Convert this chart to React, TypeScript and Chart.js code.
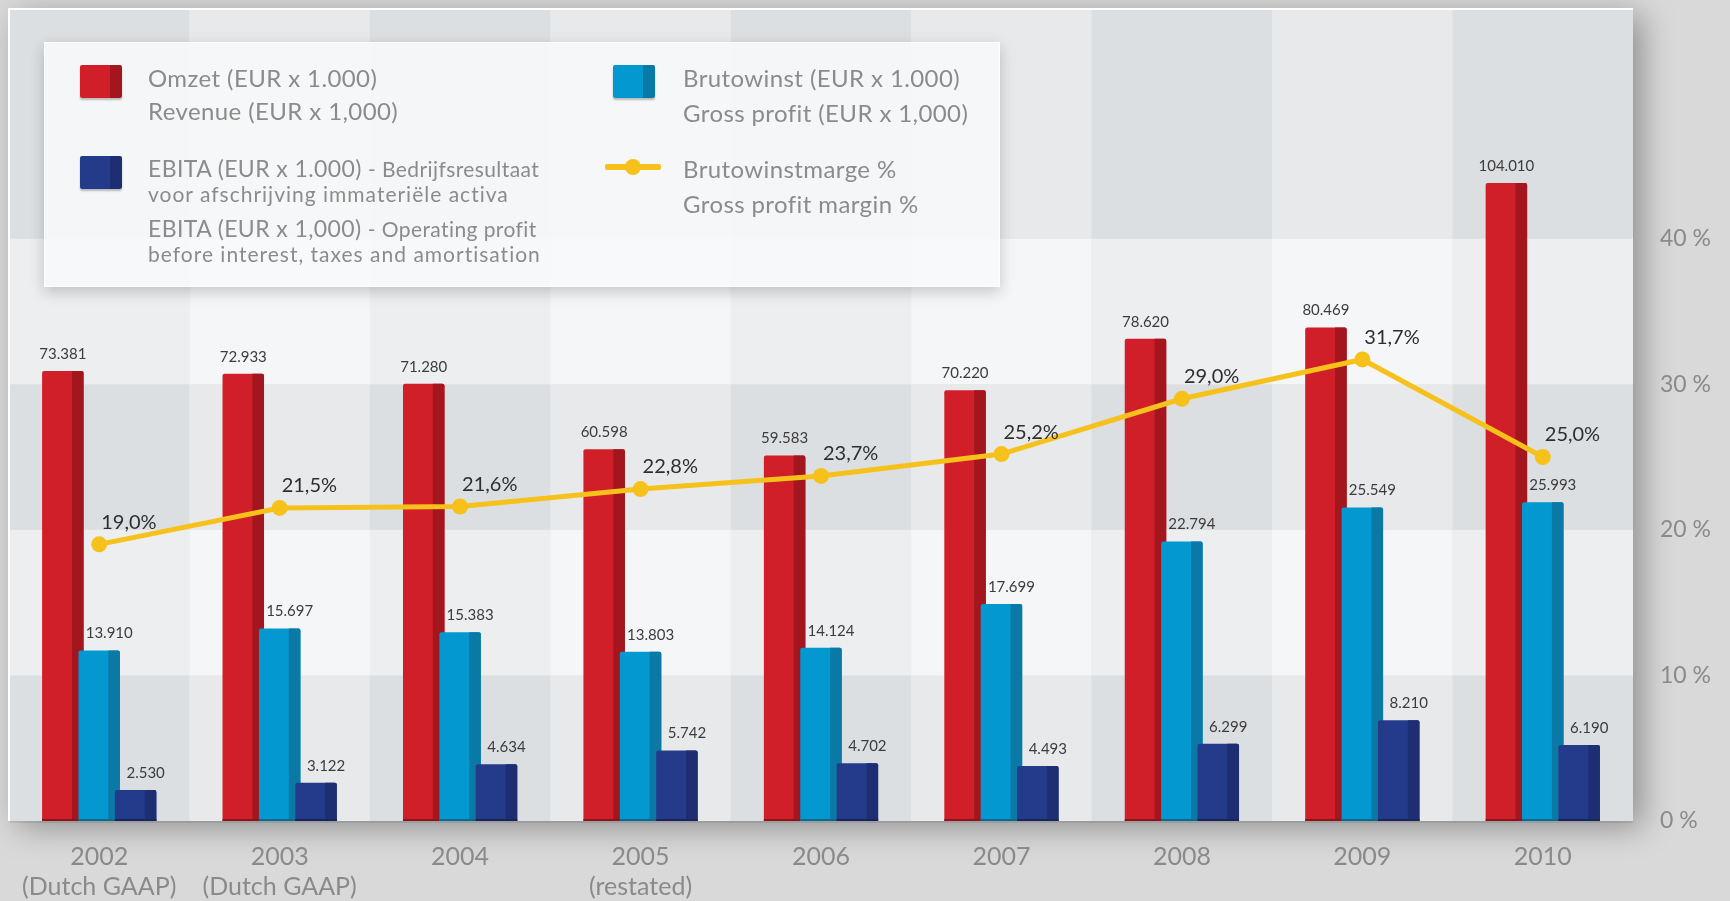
import React, { useEffect, useRef } from "react";
import { Chart, registerables } from "chart.js";

Chart.register(...registerables);

// ---- data ----
const yearLabels: string[][] = [
  ["2002", "(Dutch GAAP)"],
  ["2003", "(Dutch GAAP)"],
  ["2004"],
  ["2005", "(restated)"],
  ["2006"],
  ["2007"],
  ["2008"],
  ["2009"],
  ["2010"],
];
const revenue = [73381, 72933, 71280, 60598, 59583, 70220, 78620, 80469, 104010];
const grossProfit = [13910, 15697, 15383, 13803, 14124, 17699, 22794, 25549, 25993];
const ebita = [2530, 3122, 4634, 5742, 4702, 4493, 6299, 8210, 6190];
const margin = [19.0, 21.5, 21.6, 22.8, 23.7, 25.2, 29.0, 31.7, 25.0];
const pctTicks = [0, 10, 20, 30, 40];
const bandEdges = [0, 10, 20, 30, 40];

const revenueMax = 132400;
const profitMax = 66200;
const pctMax = 55.77;

const FONT = "Lato, 'Open Sans', sans-serif";

const barStyles = [
  { face: "#d01f28", side: "#a3161e", bottom: "#8e121a" },
  { face: "#0398d0", side: "#0b79a5", bottom: "#0a6a90" },
  { face: "#243b8c", side: "#1d2f72", bottom: "#16245a" },
];

const fmtThousands = (v: number) =>
  String(v).replace(/\B(?=(\d{3})+(?!\d))/g, ".");
const fmtPct = (v: number) => v.toFixed(1).replace(".", ",") + "%";

const chartPainter = {
  id: "painter",
  beforeDraw(chart: any) {
    const { ctx, chartArea: ca, scales } = chart;
    const x = scales.x;
    const yp = scales.yPct;
    ctx.save();
    ctx.fillStyle = "#d9d9d9";
    ctx.fillRect(0, 0, chart.width, chart.height);
    // panel shadow
    ctx.save();
    ctx.shadowColor = "rgba(0,0,0,0.34)";
    ctx.shadowBlur = 30;
    ctx.shadowOffsetX = 9;
    ctx.shadowOffsetY = 6;
    ctx.fillStyle = "#e4e5e7";
    ctx.fillRect(ca.left, ca.top, ca.right - ca.left, ca.bottom - ca.top);
    ctx.restore();
    // checkerboard
    const n = yearLabels.length;
    const half = (ca.right - ca.left) / n / 2;
    const rows: number[] = bandEdges.map((v) => yp.getPixelForValue(v));
    rows.push(ca.top);
    const colors = [
      ["#dcdfe2", "#eceef0"],
      ["#e8e9eb", "#f5f6f7"],
    ];
    for (let i = 0; i < n; i++) {
      const cx = x.getPixelForValue(i);
      const x0 = Math.max(ca.left, cx - half);
      const x1 = Math.min(ca.right, cx + half);
      for (let r = 0; r < rows.length - 1; r++) {
        const yb = rows[r];
        const yt = rows[r + 1];
        ctx.fillStyle = colors[i % 2][r % 2];
        ctx.fillRect(x0, yt, x1 - x0, yb - yt);
      }
    }
    // white frame on top and left
    ctx.fillStyle = "#ffffff";
    ctx.fillRect(ca.left - 1, ca.top - 1, ca.right - ca.left + 1, 2);
    ctx.fillRect(ca.left - 1, ca.top - 1, 2, ca.bottom - ca.top + 1);
    ctx.fillStyle = "rgba(0,0,0,0.08)";
    ctx.fillRect(ca.left, ca.bottom, ca.right - ca.left, 2);
    ctx.restore();
  },
  beforeDatasetsDraw(chart: any) {
    const { ctx } = chart;
    ctx.save();
    for (let d = 0; d < 3; d++) {
      const meta = chart.getDatasetMeta(d);
      const st = barStyles[d];
      meta.data.forEach((el: any) => {
        const { x, y, base, width } = el.getProps(["x", "y", "base", "width"], true);
        const left = x - width / 2;
        const r = 2;
        ctx.fillStyle = st.face;
        ctx.beginPath();
        ctx.moveTo(left, base);
        ctx.lineTo(left, y + r);
        ctx.quadraticCurveTo(left, y, left + r, y);
        ctx.lineTo(left + width - r, y);
        ctx.quadraticCurveTo(left + width, y, left + width, y + r);
        ctx.lineTo(left + width, base);
        ctx.closePath();
        ctx.fill();
        const sw = width * 0.28;
        ctx.fillStyle = st.side;
        ctx.beginPath();
        ctx.moveTo(left + width - sw, base);
        ctx.lineTo(left + width - sw, y);
        ctx.lineTo(left + width - r, y);
        ctx.quadraticCurveTo(left + width, y, left + width, y + r);
        ctx.lineTo(left + width, base);
        ctx.closePath();
        ctx.fill();
        ctx.fillStyle = st.bottom;
        ctx.fillRect(left, base - 2, width, 2);
      });
    }
    ctx.restore();
  },
  afterDatasetsDraw(chart: any) {
    const { ctx } = chart;
    ctx.save();
    ctx.textBaseline = "middle";
    ctx.font = `15px ${FONT}`;
    ctx.fillStyle = "#3c3c3c";
    const sets = [revenue, grossProfit, ebita];
    for (let d = 0; d < 3; d++) {
      const meta = chart.getDatasetMeta(d);
      meta.data.forEach((el: any, i: number) => {
        const { x, y } = el.getProps(["x", "y"], true);
        ctx.textAlign = "center";
        const dx = d === 0 ? 0 : 10;
        ctx.fillText(fmtThousands(sets[d][i]), x + dx, y - 17);
      });
    }
    const lm = chart.getDatasetMeta(3);
    ctx.font = `20px ${FONT}`;
    ctx.fillStyle = "#2e2e2e";
    ctx.textAlign = "left";
    lm.data.forEach((el: any, i: number) => {
      const { x, y } = el.getProps(["x", "y"], true);
      ctx.fillText(fmtPct(margin[i]), x + 2, y - 22);
    });
    ctx.restore();
  },
};

function Swatch({ left, top, face, side }: { left: number; top: number; face: string; side: string }) {
  return (
    <div
      style={{
        position: "absolute",
        left,
        top,
        width: 42,
        height: 33,
        borderRadius: 2,
        background: `linear-gradient(to right, ${face} 0%, ${face} 72%, ${side} 72%, ${side} 100%)`,
        boxShadow: "0 2px 2px rgba(0,0,0,0.25)",
      }}
    />
  );
}

function Line({
  left,
  cy,
  size,
  spacing,
  children,
}: {
  left: number;
  cy: number;
  size: number;
  spacing: number;
  children: React.ReactNode;
}) {
  const lh = size * 1.3;
  return (
    <div
      style={{
        position: "absolute",
        left,
        top: cy - lh / 2,
        lineHeight: `${lh}px`,
        fontSize: size,
        letterSpacing: spacing,
        fontFamily: FONT,
        color: "#8b8b8b",
        whiteSpace: "nowrap",
      }}
    >
      {children}
    </div>
  );
}

function Legend() {
  return (
    <div
      style={{
        position: "absolute",
        left: 44,
        top: 42,
        width: 956,
        height: 245,
        background: "rgba(248,249,250,0.86)",
        boxShadow: "0 5px 14px rgba(0,0,0,0.2)",
        border: "1px solid rgba(255,255,255,0.9)",
        boxSizing: "border-box",
      }}
    >
      <div style={{ position: "absolute", left: -44, top: -42 }}>
        <Swatch left={79} top={64} face={barStyles[0].face} side={barStyles[0].side} />
        <Line left={147} cy={77} size={24} spacing={0.4}>Omzet (EUR x 1.000)</Line>
        <Line left={147} cy={110} size={24} spacing={0.4}>Revenue (EUR x 1,000)</Line>

        <Swatch left={79} top={155} face={barStyles[2].face} side={barStyles[2].side} />
        <Line left={147} cy={168} size={23} spacing={0.4}>
          EBITA (EUR x 1.000) <span style={{ fontSize: 21 }}>- Bedrijfsresultaat</span>
        </Line>
        <Line left={147} cy={193} size={21} spacing={1}>voor afschrijving immateriële activa</Line>
        <Line left={147} cy={228} size={23} spacing={0.4}>
          EBITA (EUR x 1,000) <span style={{ fontSize: 21 }}>- Operating profit</span>
        </Line>
        <Line left={147} cy={253} size={21} spacing={1}>before interest, taxes and amortisation</Line>

        <Swatch left={612} top={64} face={barStyles[1].face} side={barStyles[1].side} />
        <Line left={682} cy={77} size={24} spacing={0.4}>Brutowinst (EUR x 1.000)</Line>
        <Line left={682} cy={112} size={24} spacing={0.4}>Gross profit (EUR x 1,000)</Line>

        <div style={{ position: "absolute", left: 604, top: 163, width: 56, height: 6, background: "#f7c11c", borderRadius: 2 }} />
        <div style={{ position: "absolute", left: 624, top: 158, width: 16, height: 16, background: "#f7c11c", borderRadius: 8 }} />
        <Line left={682} cy={168} size={24} spacing={0.4}>Brutowinstmarge %</Line>
        <Line left={682} cy={203} size={24} spacing={0.4}>Gross profit margin %</Line>
      </div>
    </div>
  );
}

export default function App() {
  const ref = useRef<HTMLCanvasElement | null>(null);

  useEffect(() => {
    document.body.style.margin = "0";
    document.body.style.overflow = "hidden";
    const canvas = ref.current;
    if (!canvas) return;
    const chart = new Chart(canvas, {
      type: "bar",
      data: {
        labels: yearLabels,
        datasets: [
          {
            label: "Omzet",
            data: revenue,
            yAxisID: "yRev",
            backgroundColor: "rgba(0,0,0,0)",
            borderWidth: 0,
            order: 1,
          },
          {
            label: "Brutowinst",
            data: grossProfit,
            yAxisID: "yProfit",
            backgroundColor: "rgba(0,0,0,0)",
            borderWidth: 0,
            order: 2,
          },
          {
            label: "EBITA",
            data: ebita,
            yAxisID: "yProfit",
            backgroundColor: "rgba(0,0,0,0)",
            borderWidth: 0,
            order: 3,
          },
          {
            type: "line",
            label: "Brutowinstmarge %",
            data: margin,
            yAxisID: "yPct",
            borderColor: "#f7c11c",
            backgroundColor: "#f7c11c",
            borderWidth: 5,
            pointRadius: 8,
            pointBorderWidth: 0,
            pointBackgroundColor: "#f7c11c",
            tension: 0,
            order: 0,
          } as any,
        ],
      },
      options: {
        responsive: false,
        animation: false,
        events: [],
        datasets: {
          bar: {
            categoryPercentage: 0.605,
            barPercentage: 1.14,
          },
        },
        layout: { padding: { left: 9, top: 9, right: 0, bottom: 0 } },
        plugins: {
          legend: { display: false },
          tooltip: { enabled: false },
        },
        scales: {
          x: {
            type: "category",
            grid: { display: false, drawTicks: false },
            border: { display: false },
            ticks: {
              color: "#8a8a8a",
              font: { family: FONT, size: 25 },
              padding: 21,
              maxRotation: 0,
              autoSkip: false,
            },
            afterFit: (s: any) => {
              s.height = 80;
              s.paddingLeft = 0;
              s.paddingRight = 0;
              s.paddingTop = 0;
              s.paddingBottom = 0;
            },
          },
          yRev: {
            display: false,
            min: 0,
            max: revenueMax,
          },
          yProfit: {
            display: false,
            min: 0,
            max: profitMax,
          },
          yPct: {
            position: "right",
            min: 0,
            max: pctMax,
            grid: { display: false, drawTicks: false },
            border: { display: false },
            afterBuildTicks: (s: any) => {
              s.ticks = pctTicks.map((v) => ({ value: v }));
            },
            ticks: {
              color: "#8a8a8a",
              font: { family: FONT, size: 23 },
              padding: 27,
              callback: (v: any) => `${v} %`,
            },
            afterFit: (s: any) => {
              s.width = 97;
              s.paddingTop = 0;
              s.paddingBottom = 0;
              s.paddingLeft = 0;
              s.paddingRight = 0;
            },
          },
        },
      } as any,
      plugins: [chartPainter],
    });
    return () => chart.destroy();
  }, []);

  return (
    <div style={{ position: "relative", width: 1730, height: 901, overflow: "hidden" }}>
      <canvas ref={ref} width={1730} height={901} style={{ display: "block" }} />
      <Legend />
    </div>
  );
}
